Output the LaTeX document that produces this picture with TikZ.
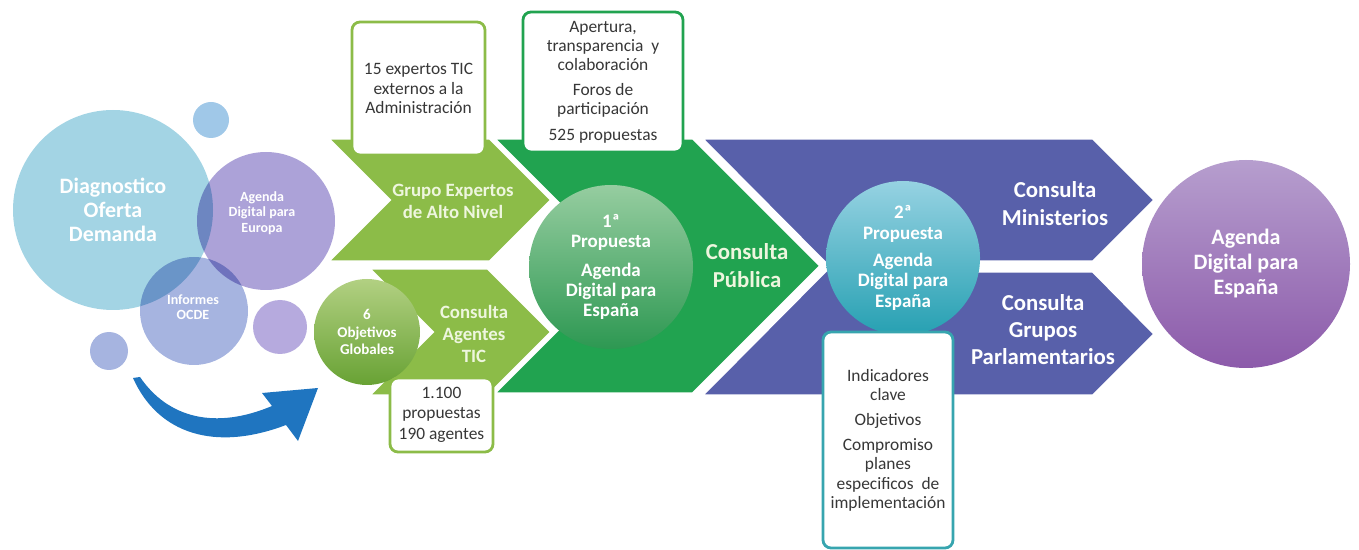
\documentclass[tikz,border=0pt]{standalone}
\usepackage{fontspec}
\setmainfont{Carlito}
\usetikzlibrary{positioning}

\definecolor{bubbleblue}{RGB}{163,212,228}
\definecolor{bubbletop}{RGB}{160,200,232}
\definecolor{bubblelav}{RGB}{172,162,216}
\definecolor{bubbleocde}{RGB}{166,180,224}
\definecolor{bubblepurp}{RGB}{182,170,222}
\definecolor{arrowblue}{RGB}{31,117,192}
\definecolor{lightgreen}{RGB}{140,188,72}
\definecolor{darkgreen}{RGB}{33,163,80}
\definecolor{chevblue}{RGB}{88,96,170}
\definecolor{tealline}{RGB}{55,165,175}
\definecolor{labellight}{RGB}{238,246,222}
\definecolor{boxtext}{RGB}{55,55,55}

\begin{document}
\begin{tikzpicture}[x=0.5pt, y=-0.5pt,
    bubble/.style={circle, inner sep=0pt},
    bubtext/.style={text=white, font=\bfseries, align=center, inner sep=0pt},
    ball/.style={circle, inner sep=0pt, text=white, align=center},
    chev/.style={draw=white, line width=1.6pt},
    chevlabel/.style={align=center, inner sep=0pt},
    infobox/.style={draw, fill=white, rounded corners=4pt, line width=1.4pt, inner sep=0pt, align=center, text=boxtext, font=\fontsize{8.7}{9.6}\selectfont}]
    \useasboundingbox (0,0) rectangle (1359,550);

    % Bubbles on the left
    \begin{scope}[blend mode=multiply]
        \node[bubble, minimum size=100pt, fill=bubbleblue] (diag) at (113,210) {};
        \node[bubble, minimum size=18pt, fill=bubbletop] (dot1) at (211,120) {};
        \node[bubble, minimum size=69pt, fill=bubblelav] (europa) at (266,221) {};
        \node[bubble, minimum size=54pt, fill=bubbleocde] (ocde) at (194,311) {};
        \node[bubble, minimum size=27pt, fill=bubblepurp] (dot2) at (280,327) {};
        \node[bubble, minimum size=19pt, fill=bubbleocde] (dot3) at (109,351) {};
    \end{scope}
    \node[bubtext, font=\bfseries\fontsize{11}{12}\selectfont] (diagtxt) at (diag) {Diagnostico\\Oferta\\Demanda};
    \node[bubtext, font=\bfseries\fontsize{7}{7.6}\selectfont] (europatxt) at (262,213) {Agenda\\Digital para\\Europa};
    \node[bubtext, font=\bfseries\fontsize{7}{7.6}\selectfont] (ocdetxt) at (193,307) {Informes\\OCDE};

    % Curved arrow
    \fill[arrowblue] (133,378) .. controls (158,434) and (215,452) .. (286,425) -- (298,441) -- (318,388)
        -- (262,393) -- (272,406) .. controls (215,430) and (168,418) .. (140,377) -- cycle;

    % Chevrons
    \fill[chevblue, chev] (701,138) -- (1093,138) -- (1155,200) -- (1093,262) -- (965,262) -- (965,271)
        -- (1093,271) -- (1155,334) -- (1093,396) -- (701,396) -- (829,267) -- cycle;
    \fill[darkgreen, chev] (493,138) -- (693,138) -- (821,266) -- (693,394) -- (493,394) -- (621,266) -- cycle;
    \fill[lightgreen, chev] (327,138) -- (490,138) -- (552,200) -- (490,262) -- (327,262) -- (389,200) -- cycle;
    \fill[lightgreen, chev] (368,268) -- (488,268) -- (552,332) -- (488,396) -- (368,396) -- (432,332) -- cycle;

    \node[chevlabel, text=labellight, font=\bfseries\fontsize{9.4}{11}\selectfont] (grupo) at (453,201) {Grupo Expertos\\de Alto Nivel};
    \node[chevlabel, text=labellight, font=\bfseries\fontsize{9.4}{11}\selectfont] (agentes) at (474,334) {Consulta\\Agentes\\TIC};
    \node[chevlabel, text=labellight, font=\bfseries\fontsize{11.4}{14}\selectfont] (publica) at (747,266) {Consulta\\Pública};
    \node[chevlabel, text=white, font=\bfseries\fontsize{11.4}{14}\selectfont] (ministerios) at (1055,204) {Consulta\\Ministerios};
    \node[chevlabel, text=white, font=\bfseries\fontsize{11.4}{13.5}\selectfont] (grupos) at (1043,330) {Consulta\\Grupos\\Parlamentarios};

    % Proposal circles
    \node[ball, minimum size=53pt, top color={rgb,255:red,178;green,208;blue,130}, bottom color={rgb,255:red,104;green,162;blue,52},
        font=\bfseries\fontsize{7.5}{8.7}\selectfont] (objetivos) at (367,332) {6\\Objetivos\\Globales};
    \node[ball, minimum size=82pt, top color={rgb,255:red,150;green,205;blue,160}, bottom color={rgb,255:red,45;green,152;blue,82},
        font=\bfseries\fontsize{9.5}{10.2}\selectfont] (prop1) at (611,267) {1ª\\Propuesta\\[4pt]Agenda\\Digital para\\España};
    \node[ball, minimum size=77pt, top color={rgb,255:red,150;green,210;blue,226}, bottom color={rgb,255:red,38;green,160;blue,178},
        font=\bfseries\fontsize{9.5}{10.4}\selectfont] (prop2) at (903,258) {2ª\\Propuesta\\[3pt]Agenda\\Digital para\\España};
    \node[ball, minimum size=104pt, top color={rgb,255:red,182;green,158;blue,206}, bottom color={rgb,255:red,140;green,90;blue,170},
        font=\bfseries\fontsize{11}{12.5}\selectfont] (agenda) at (1246,264) {Agenda\\Digital para\\España};

    % Text boxes
    \node[infobox, draw=lightgreen, minimum width=66.5pt, minimum height=66.5pt] (expertos) at (418.5,88.5)
        {15 expertos TIC\\externos a la\\Administración};
    \node[infobox, draw=darkgreen, minimum width=80pt, minimum height=70pt] (apertura) at (603,82)
        {Apertura,\\transparencia~ y\\colaboración\\[3pt]Foros de\\participación\\[3pt]525 propuestas};
    \node[infobox, draw=lightgreen, minimum width=51.5pt, minimum height=37pt] (propuestas) at (441.5,415)
        {1.100\\propuestas\\[1pt]190 agentes};
    \node[infobox, draw=tealline, minimum width=65pt, minimum height=108pt] (indicadores) at (888,440)
        {Indicadores\\clave\\[3pt]Objetivos\\[3pt]Compromiso\\planes\\especificos~ de\\implementación};
\end{tikzpicture}
\end{document}
